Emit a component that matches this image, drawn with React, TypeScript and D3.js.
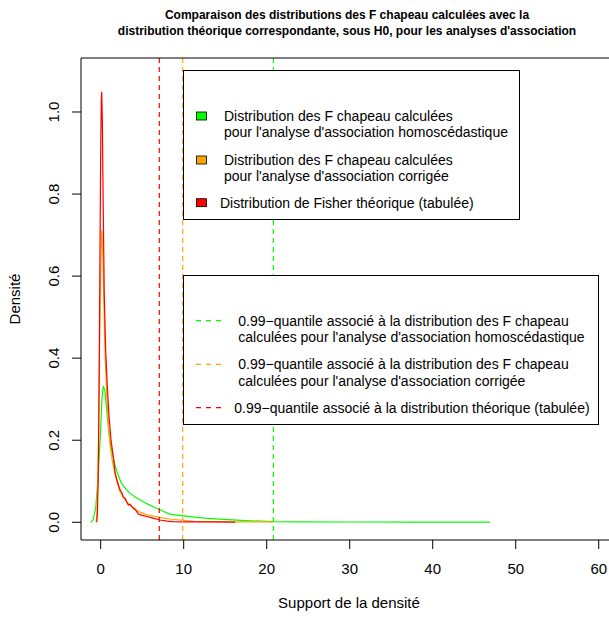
import React, { useEffect, useRef } from 'react';
import * as d3 from 'd3';

// density curves
const greenX = [-1.2, -0.9, -0.6, -0.3, 0.0, 0.15, 0.31, 0.5, 0.75, 1.0, 1.3, 1.6, 2.0, 2.5, 3.0, 3.5, 4.3, 5.5, 6.5, 7.2, 8.3, 9.5, 10.8, 12.5, 14.8, 17.5, 20.8, 24, 30, 38, 46.9];
const greenY = [0, 0.006, 0.035, 0.11, 0.23, 0.3, 0.332, 0.322, 0.27, 0.215, 0.178, 0.15, 0.12, 0.095, 0.082, 0.071, 0.06, 0.046, 0.036, 0.03, 0.02, 0.017, 0.014, 0.01, 0.007, 0.004, 0.0015, 0.001, 0.0007, 0.0005, 0.0003];

const orangeX = [-0.55, -0.45, -0.3, -0.15, 0.0, 0.12, 0.25, 0.4, 0.55, 0.72, 0.9, 1.12, 1.4, 1.7, 2.0, 2.33, 2.7, 3.1, 3.53, 3.8, 4.1, 4.53, 5.0, 5.54, 6.3, 7.14, 8.3, 9.55, 11.2, 13, 16, 20.8];
const orangeY = [0.0, 0.02, 0.15, 0.4, 0.62, 0.712, 0.66, 0.52, 0.4, 0.314, 0.25, 0.19, 0.15, 0.12, 0.095, 0.075, 0.062, 0.051, 0.042, 0.038, 0.034, 0.026, 0.023, 0.018, 0.015, 0.012, 0.008, 0.0056, 0.0024, 0.0018, 0.0012, 0.0008];

const redX = [-0.48, -0.4, -0.3, -0.2, -0.1, 0.0, 0.08, 0.12, 0.2, 0.3, 0.43, 0.6, 0.8, 1.0, 1.25, 1.52, 1.74, 2.0, 2.33, 2.55, 2.72, 2.95, 3.13, 3.33, 3.55, 3.75, 3.93, 4.2, 4.53, 5.0, 5.54, 6.3, 7.14, 8.0, 8.75, 10, 12, 14, 16.2];
const redY = [0.0, 0.02, 0.1, 0.3, 0.6, 0.9, 1.03, 1.049, 0.98, 0.78, 0.558, 0.42, 0.33, 0.26, 0.2, 0.16, 0.12, 0.1, 0.079, 0.072, 0.062, 0.058, 0.05, 0.042, 0.044, 0.038, 0.034, 0.03, 0.02, 0.017, 0.014, 0.01, 0.0056, 0.003, 0.0015, 0.0012, 0.001, 0.0008, 0.0006];

// 0.99 quantiles
const quantiles = [20.8, 9.88, 7.06];
const seriesColors = ['#00ff00', '#ffa500', '#ff0000'];

const xTicks = [0, 10, 20, 30, 40, 50, 60];
const yTicks = [0, 0.2, 0.4, 0.6, 0.8, 1.0];

const titleLines = [
  'Comparaison des distributions des F chapeau calculées avec la',
  "distribution théorique correspondante, sous H0, pour les analyses d'association",
];
const legend1 = [
  ['Distribution des F chapeau calculées', "pour l'analyse d'association homoscédastique"],
  ['Distribution des F chapeau calculées', "pour l'analyse d'association corrigée"],
  ['Distribution de Fisher théorique (tabulée)'],
];
const legend2 = [
  ['0.99\u2212quantile associé à la distribution des F chapeau', "calculées pour l'analyse d'association homoscédastique"],
  ['0.99\u2212quantile associé à la distribution des F chapeau', "calculées pour l'analyse d'association corrigée"],
  ['0.99\u2212quantile associé à la distribution théorique (tabulée)'],
];

const W = 609;
const H = 619;
const plot = { left: 81, right: 617, top: 58, bottom: 540 };
const font = 'Liberation Sans, Arial, Helvetica, sans-serif';

const App = () => {
  const ref = useRef<SVGSVGElement>(null);

  useEffect(() => {
    const svg = d3.select(ref.current);
    svg.selectAll('*').remove();

    const x = d3.scaleLinear().domain([-2.37, 62.2]).range([plot.left, plot.right]);
    const y = d3.scaleLinear().domain([-0.0432, 1.1316]).range([plot.bottom, plot.top]);

    // title
    titleLines.forEach((t, i) => {
      svg.append('text')
        .attr('x', 347).attr('y', 19 + i * 16)
        .attr('text-anchor', 'middle')
        .style('font-family', font).style('font-size', '12px').style('font-weight', 'bold')
        .text(t);
    });

    // curves
    const line = d3.line<[number, number]>().x(d => x(d[0])).y(d => y(d[1]));
    const curves: [number[], number[]][] = [[greenX, greenY], [orangeX, orangeY], [redX, redY]];
    curves.forEach(([xs, ys], i) => {
      svg.append('path')
        .datum(xs.map((v, j) => [v, ys[j]] as [number, number]))
        .attr('d', line)
        .attr('fill', 'none')
        .attr('stroke', seriesColors[i])
        .attr('stroke-width', 1.2);
    });

    // quantile lines
    quantiles.forEach((q, i) => {
      svg.append('line')
        .attr('x1', x(q)).attr('x2', x(q))
        .attr('y1', plot.top).attr('y2', plot.bottom)
        .attr('stroke', seriesColors[i])
        .attr('stroke-width', 1.2)
        .attr('stroke-dasharray', '5,4');
    });

    // box (left, top, bottom)
    svg.append('path')
      .attr('d', `M${plot.right},${plot.top}H${plot.left}V${plot.bottom}H${plot.right}`)
      .attr('fill', 'none').attr('stroke', '#000').attr('stroke-width', 1);

    // axes
    const xAxis = svg.append('g');
    xTicks.forEach(t => {
      xAxis.append('line')
        .attr('x1', x(t)).attr('x2', x(t)).attr('y1', plot.bottom).attr('y2', plot.bottom + 9)
        .attr('stroke', '#000');
      xAxis.append('text')
        .attr('x', x(t)).attr('y', 573.5)
        .attr('text-anchor', 'middle')
        .style('font-family', font).style('font-size', '15px')
        .text(String(t));
    });
    const yAxis = svg.append('g');
    yTicks.forEach(t => {
      yAxis.append('line')
        .attr('x1', plot.left - 9).attr('x2', plot.left).attr('y1', y(t)).attr('y2', y(t))
        .attr('stroke', '#000');
      yAxis.append('text')
        .attr('transform', `translate(58.5, ${y(t)}) rotate(-90)`)
        .attr('text-anchor', 'middle')
        .style('font-family', font).style('font-size', '15px')
        .text(t.toFixed(1));
    });

    svg.append('text')
      .attr('x', 349).attr('y', 608)
      .attr('text-anchor', 'middle')
      .style('font-family', font).style('font-size', '15px')
      .text('Support de la densité');
    svg.append('text')
      .attr('transform', `translate(19.5, ${(plot.top + plot.bottom) / 2}) rotate(-90)`)
      .attr('text-anchor', 'middle')
      .style('font-family', font).style('font-size', '15px')
      .text('Densité');

    // legend 1: fill boxes
    const l1 = svg.append('g');
    l1.append('rect')
      .attr('x', 183.5).attr('y', 70.5).attr('width', 336).attr('height', 149)
      .attr('fill', '#fff').attr('stroke', '#000');
    const l1Rows = [116, 160, 202.7];
    legend1.forEach((lines, i) => {
      l1.append('rect')
        .attr('x', 196.5).attr('y', l1Rows[i] - 4).attr('width', 10).attr('height', 8)
        .attr('fill', seriesColors[i]).attr('stroke', '#000').attr('stroke-width', 0.8);
      lines.forEach((t, j) => {
        l1.append('text')
          .attr('x', lines.length > 1 ? 224 : 220).attr('y', l1Rows[i] + j * 16.5)
          .attr('dy', '0.35em')
          .style('font-family', font).style('font-size', '14px')
          .text(t);
      });
    });

    // legend 2: dashed lines
    const l2 = svg.append('g');
    l2.append('rect')
      .attr('x', 183.5).attr('y', 275.5).attr('width', 415).attr('height', 149)
      .attr('fill', '#fff').attr('stroke', '#000');
    const l2Rows = [320.7, 364.3, 407.7];
    legend2.forEach((lines, i) => {
      l2.append('line')
        .attr('x1', 196).attr('x2', 223).attr('y1', l2Rows[i]).attr('y2', l2Rows[i])
        .attr('stroke', seriesColors[i]).attr('stroke-width', 1.2)
        .attr('stroke-dasharray', '5,5');
      lines.forEach((t, j) => {
        l2.append('text')
          .attr('x', lines.length > 1 ? 238.3 : 234.3).attr('y', l2Rows[i] + j * 16.5)
          .attr('dy', '0.35em')
          .style('font-family', font).style('font-size', '14px')
          .text(t);
      });
    });
  }, []);

  return (
    <svg ref={ref} width={W} height={H}
      style={{ position: 'absolute', left: 0, top: 0, background: '#fff' }} />
  );
};

export default App;
